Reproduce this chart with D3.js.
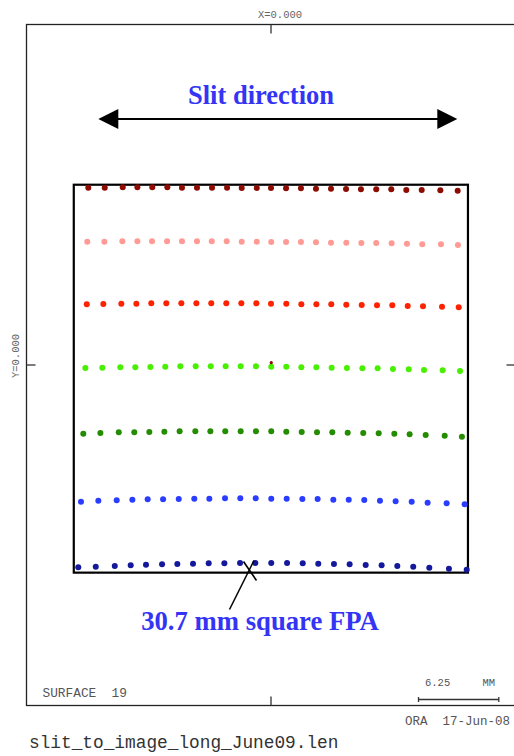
<!DOCTYPE html>
<html>
<head>
<meta charset="utf-8">
<script src="https://cdn.jsdelivr.net/npm/d3@7"></script>
<style>
  html, body { margin: 0; padding: 0; background: #fff; }
  svg { display: block; }
</style>
</head>
<body>
<div id="chart"></div>
<script>
// ---- Data (image-plane coordinates in mm) ----
const fieldNames = ["f1", "f2", "f3", "f4", "f5", "f6", "f7"];
const fieldColors = ["#8c0a00", "#ff9a94", "#ff2200", "#48f000", "#248c00", "#2a3cff", "#14189a"];

const xRow1 = [-14.22,-12.94,-11.54,-10.40,-9.24,-8.07,-6.93,-5.76,-4.59,-3.42,-2.28,-1.11,0.00,1.17,2.33,3.50,4.67,5.84,7.00,8.19,9.36,10.53,11.73,13.18,14.53];
const yRow1 = [13.80,13.80,13.83,13.83,13.83,13.83,13.80,13.80,13.80,13.80,13.77,13.77,13.77,13.75,13.75,13.72,13.72,13.70,13.67,13.67,13.67,13.62,13.62,13.60,13.56];

const xRow2 = [-14.30,-12.97,-11.57,-10.40,-9.26,-8.09,-6.93,-5.76,-4.61,-3.45,-2.28,-1.11,0.02,1.17,2.33,3.50,4.67,5.86,7.03,8.19,9.39,10.58,11.77,13.23,14.55];
const yRow2 = [9.60,9.60,9.63,9.63,9.63,9.63,9.63,9.63,9.63,9.63,9.60,9.60,9.57,9.57,9.57,9.55,9.52,9.52,9.49,9.49,9.47,9.44,9.39,9.39,9.34];

const xRow3 = [-14.34,-13.05,-11.65,-10.48,-9.32,-8.15,-6.98,-5.81,-4.65,-3.48,-2.31,-1.14,0.00,1.19,2.36,3.53,4.69,5.86,7.06,8.25,9.44,10.64,11.83,13.31,14.61];
const yRow3 = [4.72,4.75,4.77,4.77,4.80,4.80,4.80,4.80,4.80,4.80,4.80,4.80,4.77,4.77,4.72,4.72,4.72,4.69,4.67,4.65,4.65,4.59,4.57,4.54,4.49];

const xRow4 = [-14.45,-13.13,-11.73,-10.56,-9.39,-8.23,-7.06,-5.86,-4.69,-3.53,-2.36,-1.17,0.02,1.19,2.36,3.53,4.72,5.91,7.11,8.30,9.49,10.72,11.91,13.36,14.71];
const yRow4 = [-0.23,-0.21,-0.18,-0.18,-0.16,-0.13,-0.10,-0.10,-0.10,-0.10,-0.10,-0.10,-0.13,-0.13,-0.18,-0.18,-0.21,-0.23,-0.26,-0.26,-0.31,-0.33,-0.39,-0.41,-0.47];

const xRow5 = [-14.61,-13.28,-11.85,-10.64,-9.47,-8.30,-7.11,-5.89,-4.72,-3.56,-2.36,-1.17,0.02,1.19,2.39,3.58,4.77,5.97,7.18,8.38,9.60,10.79,12.04,13.52,14.86];
const yRow5 = [-5.35,-5.29,-5.24,-5.24,-5.21,-5.19,-5.16,-5.16,-5.16,-5.16,-5.16,-5.16,-5.16,-5.19,-5.21,-5.24,-5.24,-5.27,-5.29,-5.32,-5.35,-5.39,-5.45,-5.50,-5.58];

const xRow6 = [-14.79,-13.44,-12.01,-10.79,-9.60,-8.40,-7.18,-5.97,-4.80,-3.58,-2.39,-1.19,0.02,1.22,2.44,3.63,4.85,6.05,7.26,8.48,9.70,10.95,12.19,13.67,15.07];
const yRow6 = [-10.64,-10.56,-10.53,-10.48,-10.45,-10.45,-10.43,-10.40,-10.40,-10.37,-10.37,-10.37,-10.40,-10.40,-10.43,-10.43,-10.48,-10.48,-10.51,-10.56,-10.61,-10.64,-10.72,-10.76,-10.84];

const xRow7 = [-15.00,-13.64,-12.16,-10.92,-9.73,-8.48,-7.29,-6.07,-4.85,-3.63,-2.41,-1.22,0.02,1.25,2.47,3.68,4.90,6.12,7.37,8.61,9.83,11.07,12.32,13.85,15.23];
const yRow7 = [-15.74,-15.70,-15.64,-15.59,-15.54,-15.51,-15.49,-15.46,-15.43,-15.43,-15.41,-15.41,-15.41,-15.41,-15.43,-15.46,-15.49,-15.51,-15.56,-15.59,-15.64,-15.70,-15.77,-15.85,-15.93];

const chiefRay = [0.02, 0.18];           // small marker at the field centre
const fpaBoxX = [-15.35, 15.33];          // FPA outline, mm
const fpaBoxY = [14.03, -16.16];
const scaleBarMM = 6.25;

const labels = {
  xCentre: "X=0.000",
  yCentre: "Y=0.000",
  surface: "SURFACE  19",
  scaleVal: "6.25",
  scaleUnit: "MM",
  stamp: "ORA  17-Jun-08",
  file: "slit_to_image_long_June09.len",
  slit: "Slit direction",
  fpa: "30.7 mm square FPA"
};

// ---- Drawing ----
const W = 514, H = 756;
const svg = d3.select("#chart").append("svg").attr("width", W).attr("height", H);

const x = d3.scaleLinear().domain([-19.03, 19.03]).range([26.5, 515.5]);
const y = d3.scaleLinear().domain([-26.5, 26.5]).range([705.5, 24.5]);

const mono = "'Liberation Mono', 'DejaVu Sans Mono', monospace";
const serif = "'Liberation Serif', 'Times New Roman', serif";

// Outer frame
svg.append("rect")
  .attr("x", x(-19.03)).attr("y", y(26.5))
  .attr("width", x(19.03) - x(-19.03)).attr("height", y(-26.5) - y(26.5))
  .attr("fill", "none").attr("stroke", "#222").attr("stroke-width", 1.3);

// Centre ticks on frame
const tk = 9;
const tg = svg.append("g").attr("stroke", "#333").attr("stroke-width", 1.3);
tg.append("line").attr("x1", x(0)).attr("x2", x(0)).attr("y1", y(26.5)).attr("y2", y(26.5) + tk);
tg.append("line").attr("x1", x(0)).attr("x2", x(0)).attr("y1", y(-26.5)).attr("y2", y(-26.5) - tk);
tg.append("line").attr("x1", x(-19.03)).attr("x2", x(-19.03) + tk).attr("y1", y(0)).attr("y2", y(0));
tg.append("line").attr("x1", x(19.03)).attr("x2", x(19.03) - tk).attr("y1", y(0)).attr("y2", y(0));

// Centre labels
svg.append("text").attr("x", 280).attr("y", 18).attr("text-anchor", "middle")
  .attr("font-family", mono).attr("font-size", 10.5).attr("fill", "#666").text(labels.xCentre);
svg.append("text").attr("transform", `translate(19, ${356}) rotate(-90)`).attr("text-anchor", "middle")
  .attr("font-family", mono).attr("font-size", 10.5).attr("fill", "#666").text(labels.yCentre);

// FPA box
svg.append("rect")
  .attr("x", x(fpaBoxX[0])).attr("y", y(fpaBoxY[0]))
  .attr("width", x(fpaBoxX[1]) - x(fpaBoxX[0])).attr("height", y(fpaBoxY[1]) - y(fpaBoxY[0]))
  .attr("fill", "none").attr("stroke", "#000").attr("stroke-width", 2.2);

// Spot rows
const rowsX = [xRow1, xRow2, xRow3, xRow4, xRow5, xRow6, xRow7];
const rowsY = [yRow1, yRow2, yRow3, yRow4, yRow5, yRow6, yRow7];
const pts = [];
rowsX.forEach((xs, r) => xs.forEach((v, i) => pts.push({ f: fieldNames[r], c: fieldColors[r], x: v, y: rowsY[r][i] })));

svg.append("g").selectAll("circle").data(pts).join("circle")
  .attr("cx", d => x(d.x)).attr("cy", d => y(d.y)).attr("r", 3)
  .attr("fill", d => d.c);

svg.append("circle").attr("cx", x(chiefRay[0])).attr("cy", y(chiefRay[1])).attr("r", 1.6).attr("fill", fieldColors[0]);

// Slit direction arrow
const ay = 119, ax0 = 98.3, ax1 = 457.3, ah = 20, aw = 10;
svg.append("line").attr("x1", ax0 + ah - 2).attr("x2", ax1 - ah + 2).attr("y1", ay).attr("y2", ay)
  .attr("stroke", "#000").attr("stroke-width", 2.2);
svg.append("path").attr("d", `M${ax0},${ay} L${ax0 + ah},${ay - aw} L${ax0 + ah},${ay + aw} Z`).attr("fill", "#000");
svg.append("path").attr("d", `M${ax1},${ay} L${ax1 - ah},${ay - aw} L${ax1 - ah},${ay + aw} Z`).attr("fill", "#000");

svg.append("text").attr("x", 261).attr("y", 103.5).attr("text-anchor", "middle")
  .attr("font-family", serif).attr("font-weight", "bold").attr("font-size", 26.5)
  .attr("fill", "#3434f5").text(labels.slit);

// FPA annotation
svg.append("line").attr("x1", 229.5).attr("y1", 609.5).attr("x2", 254).attr("y2", 560.5)
  .attr("stroke", "#000").attr("stroke-width", 1.6);
svg.append("line").attr("x1", 243.5).attr("y1", 561.5).attr("x2", 256.5).attr("y2", 580.5)
  .attr("stroke", "#000").attr("stroke-width", 1.6);
svg.append("text").attr("x", 260).attr("y", 630).attr("text-anchor", "middle")
  .attr("font-family", serif).attr("font-weight", "bold").attr("font-size", 26.7)
  .attr("fill", "#3434f5").text(labels.fpa);

// Surface label
svg.append("text").attr("x", 42.5).attr("y", 697).attr("font-family", mono).attr("font-size", 12.8)
  .attr("fill", "#555").style("white-space", "pre").text(labels.surface);

// Scale bar
const sb0 = 418.5, sb1 = sb0 + (x(scaleBarMM) - x(0)), sby = 699.5;
const sg = svg.append("g").attr("stroke", "#333").attr("stroke-width", 1.3);
sg.append("line").attr("x1", sb0).attr("x2", sb1).attr("y1", sby).attr("y2", sby);
sg.append("line").attr("x1", sb0).attr("x2", sb0).attr("y1", sby - 2.5).attr("y2", sby + 2.5);
sg.append("line").attr("x1", sb1).attr("x2", sb1).attr("y1", sby - 2.5).attr("y2", sby + 2.5);
svg.append("text").attr("x", 425).attr("y", 686).attr("font-family", mono).attr("font-size", 10.5)
  .attr("fill", "#555").text(labels.scaleVal);
svg.append("text").attr("x", 482.5).attr("y", 686).attr("font-family", mono).attr("font-size", 10.5)
  .attr("fill", "#555").text(labels.scaleUnit);

// Stamp and file name
svg.append("text").attr("x", 405).attr("y", 725).attr("font-family", mono).attr("font-size", 12.5)
  .attr("fill", "#555").style("white-space", "pre").text(labels.stamp);
svg.append("text").attr("x", 29).attr("y", 748).attr("font-family", mono).attr("font-size", 17.8)
  .attr("fill", "#333").text(labels.file);
</script>
</body>
</html>
